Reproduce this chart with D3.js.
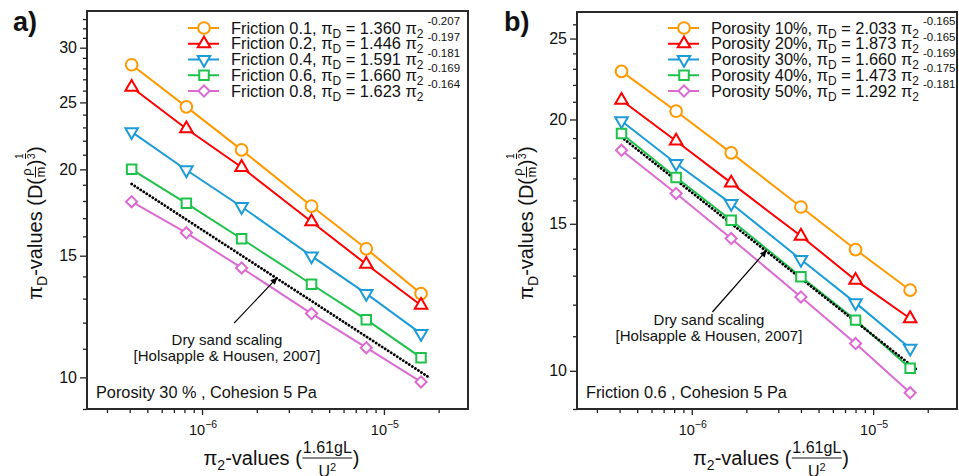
<!DOCTYPE html>
<html><head><meta charset="utf-8">
<script src="https://cdn.jsdelivr.net/npm/d3@7"></script>
<style>
body{margin:0;background:#fff;}
svg{display:block;font-family:"Liberation Sans",Arial,Helvetica,sans-serif;}
svg text{white-space:pre;}
</style></head><body>
<svg id="chart" width="959" height="476"></svg>
<script>
// ---------------- data ----------------
const xValues = [4.1e-7, 8.2e-7, 1.65e-6, 4.0e-6, 8.0e-6, 1.6e-5];

const frictionLabels = ["Friction 0.1", "Friction 0.2", "Friction 0.4", "Friction 0.6", "Friction 0.8"];
const frictionCoef = ["1.360", "1.446", "1.591", "1.660", "1.623"];
const frictionExp = ["-0.207", "-0.197", "-0.181", "-0.169", "-0.164"];
const friction01 = [28.34, 24.63, 21.34, 17.70, 15.35, 13.22];
const friction02 = [26.30, 22.90, 20.14, 16.80, 14.58, 12.72];
const friction04 = [22.66, 19.96, 17.66, 14.98, 13.22, 11.57];
const friction06 = [20.00, 17.86, 15.87, 13.64, 12.12, 10.68];
const friction08 = [17.96, 16.19, 14.40, 12.37, 11.04, 9.85];

const porosityLabels = ["Porosity 10%", "Porosity 20%", "Porosity 30%", "Porosity 40%", "Porosity 50%"];
const porosityCoef = ["2.033", "1.873", "1.660", "1.473", "1.292"];
const porosityExp = ["-0.165", "-0.165", "-0.169", "-0.175", "-0.181"];
const porosity10 = [22.84, 20.46, 18.24, 15.71, 13.97, 12.49];
const porosity20 = [21.09, 18.85, 16.79, 14.50, 12.84, 11.55];
const porosity30 = [19.92, 17.71, 15.86, 13.59, 12.06, 10.64];
const porosity40 = [19.24, 17.04, 15.15, 12.96, 11.50, 10.07];
const porosity50 = [18.37, 16.31, 14.40, 12.26, 10.78, 9.41];

const drySandX = [4.1e-7, 1.77e-5];
const drySandY = [19.05, 10.0];
const drySandText = ["Dry sand scaling", "[Holsapple & Housen, 2007]"];
const arrowHead = [2.58e-6, 13.93];
const arrowTailA = [1.5e-6, 11.98];
const arrowTailB = [1.3e-6, 11.76];

const xMajorTicks = [1e-6, 1e-5];
const xMajorExp = ["\u22126", "\u22125"];
const xMinorTicks = [3e-7, 4e-7, 5e-7, 6e-7, 7e-7, 8e-7, 9e-7, 2e-6, 3e-6, 4e-6, 5e-6, 6e-6, 7e-6, 8e-6, 9e-6, 2e-5];
const yMajorTicksA = [10, 15, 20, 25, 30];
const yMajorTicksB = [10, 15, 20, 25];
const yMinorTicksA = [9, 11, 12, 13, 14, 16, 17, 18, 19, 21, 22, 23, 24, 26, 27, 28, 29, 31, 32, 33];
const yMinorTicksB = [9, 11, 12, 13, 14, 16, 17, 18, 19, 21, 22, 23, 24, 26];

const seriesColors = ["#FF9900", "#FF0000", "#1B9CD8", "#1EC24A", "#DC6AD3"];
const seriesMarkers = ["circle", "triangle", "triangleDown", "square", "diamond"];

// ---------------- panels ----------------
const panels = [
  {
    id: "a", letter: "a)", letterX: 13, left: 87, right: 468, top: 11, bottom: 409,
    xDomain: [2.33e-7, 2.9e-5], yDomain: [9.0, 33.9],
    yMajor: yMajorTicksA, yMinor: yMinorTicksA,
    series: [friction01, friction02, friction04, friction06, friction08],
    labels: frictionLabels, coef: frictionCoef, exps: frictionExp,
    legendX: 188, legendY: 28,
    note: "Porosity 30 % , Cohesion 5 Pa",
    dryTextX: 227, dryTextY: 345, arrowTail: arrowTailA,
    yLabelX: 42
  },
  {
    id: "b", letter: "b)", letterX: 504, left: 577, right: 957, top: 12, bottom: 409,
    xDomain: [2.33e-7, 2.9e-5], yDomain: [9.0, 26.9],
    yMajor: yMajorTicksB, yMinor: yMinorTicksB,
    series: [porosity10, porosity20, porosity30, porosity40, porosity50],
    labels: porosityLabels, coef: porosityCoef, exps: porosityExp,
    legendX: 668, legendY: 28,
    note: "Friction 0.6 , Cohesion 5 Pa",
    dryTextX: 709, dryTextY: 325, arrowTail: arrowTailB,
    yLabelX: 533
  }
];

const svg = d3.select("#chart");
const defs = svg.append("defs");
defs.append("marker").attr("id", "arrow").attr("viewBox", "0 0 10 10")
  .attr("refX", 9).attr("refY", 5).attr("markerWidth", 8).attr("markerHeight", 7)
  .attr("markerUnits", "userSpaceOnUse").attr("orient", "auto")
  .append("path").attr("d", "M0,0.5 L10,5 L0,9.5 Z").attr("fill", "#000");

// rich text layout helper
function layout(g, pieces) {
  let cx = 0;
  pieces.forEach(p => {
    if (p.frac) {
      const gn = g.append("g"), gd = g.append("g");
      const wn = layout(gn, p.frac.num), wd = layout(gd, p.frac.den);
      const pad = p.pad || 1.5;
      const w = Math.max(wn, wd) + 2 * pad;
      gn.attr("transform", `translate(${cx + (w - wn) / 2},${p.numY})`);
      gd.attr("transform", `translate(${cx + (w - wd) / 2},${p.denY})`);
      g.append("line").attr("x1", cx + 0.5).attr("x2", cx + w - 0.5)
        .attr("y1", p.barY).attr("y2", p.barY).attr("stroke", "#111").attr("stroke-width", p.barW || 1);
      cx += w;
    } else {
      cx += (p.dx || 0);
      const t = g.append("text").attr("x", cx).attr("y", p.dy || 0)
        .attr("font-size", p.size).attr("fill", "#111")
        .attr("font-weight", p.weight || "normal").text(p.t);
      cx += t.node().getComputedTextLength();
    }
  });
  return cx;
}

function markerPath(type, size) {
  const map = {circle: d3.symbolCircle, triangle: d3.symbolTriangle, triangleDown: d3.symbolTriangle,
               square: d3.symbolSquare, diamond: d3.symbolSquare};
  const sizes = {circle: 108, triangle: 68, triangleDown: 68, square: 90, diamond: 62};
  return d3.symbol().type(map[type]).size(size || sizes[type])();
}
function markerRot(type) {
  return type === "triangleDown" ? " rotate(180)" : (type === "diamond" ? " rotate(45)" : "");
}

panels.forEach(P => {
  const g = svg.append("g");
  const x = d3.scaleLog().domain(P.xDomain).range([P.left, P.right]);
  const y = d3.scaleLog().domain(P.yDomain).range([P.bottom, P.top]);

  // axes ticks
  const axisStyle = sel => {
    sel.select(".domain").remove();
    sel.selectAll(".tick line").attr("stroke", "#222").attr("stroke-width", 1.3);
  };
  g.append("g").attr("transform", `translate(0,${P.bottom})`)
    .call(d3.axisBottom(x).tickValues(xMinorTicks).tickSize(4).tickFormat(""))
    .call(axisStyle);
  g.append("g").attr("transform", `translate(0,${P.bottom})`)
    .call(d3.axisBottom(x).tickValues(xMajorTicks).tickSize(6).tickFormat(""))
    .call(axisStyle);
  xMajorTicks.forEach((v, i) => {
    const lg = g.append("g");
    const w = layout(lg, [{t: "10", size: 14.5}, {t: xMajorExp[i], size: 10.5, dy: -7}]);
    lg.attr("transform", `translate(${x(v) - w / 2 + 1},435)`);
  });
  g.append("g").attr("transform", `translate(${P.left},0)`)
    .call(d3.axisLeft(y).tickValues(P.yMinor).tickSize(4).tickFormat(""))
    .call(axisStyle);
  const ya = g.append("g").attr("transform", `translate(${P.left},0)`)
    .call(d3.axisLeft(y).tickValues(P.yMajor).tickSize(7).tickPadding(3).tickFormat(d3.format("d")))
    .call(axisStyle);
  ya.selectAll(".tick text").attr("font-size", 16).attr("fill", "#111")
    .attr("font-family", '"Liberation Sans",Arial,sans-serif');

  // frame
  g.append("rect").attr("x", P.left).attr("y", P.top)
    .attr("width", P.right - P.left).attr("height", P.bottom - P.top)
    .attr("fill", "none").attr("stroke", "#2a2a2a").attr("stroke-width", 2);

  // series lines
  const line = d3.line().x((d, i) => x(xValues[i])).y(d => y(d));
  P.series.forEach((s, k) => {
    g.append("path").datum(s).attr("d", line).attr("fill", "none")
      .attr("stroke", seriesColors[k]).attr("stroke-width", 2);
  });
  // dry sand dotted line
  g.append("path").datum(drySandX.map((v, i) => [v, drySandY[i]]))
    .attr("d", d3.line().x(d => x(d[0])).y(d => y(d[1])))
    .attr("fill", "none").attr("stroke", "#000").attr("stroke-width", 2.8)
    .attr("stroke-linecap", "round").attr("stroke-dasharray", "0.1 3.5");
  // markers
  P.series.forEach((s, k) => {
    const type = seriesMarkers[k];
    g.selectAll(null).data(s).enter().append("path")
      .attr("d", markerPath(type))
      .attr("transform", (d, i) => `translate(${x(xValues[i])},${y(d)})` + markerRot(type))
      .attr("fill", "#fff").attr("stroke", seriesColors[k]).attr("stroke-width", 2);
  });

  // arrow
  g.append("line")
    .attr("x1", x(P.arrowTail[0])).attr("y1", y(P.arrowTail[1]))
    .attr("x2", x(arrowHead[0])).attr("y2", y(arrowHead[1]))
    .attr("stroke", "#000").attr("stroke-width", 1.2).attr("marker-end", "url(#arrow)");
  drySandText.forEach((t, i) => {
    g.append("text").attr("x", P.dryTextX).attr("y", P.dryTextY + i * 15.5)
      .attr("text-anchor", "middle").attr("font-size", 15).attr("fill", "#111").text(t);
  });

  // bottom note
  g.append("text").attr("x", P.left + 9).attr("y", 398).attr("font-size", 16.3).attr("fill", "#111").text(P.note);

  // legend
  P.labels.forEach((lab, k) => {
    const ry = P.legendY + k * 15.75;
    g.append("line").attr("x1", P.legendX).attr("x2", P.legendX + 31).attr("y1", ry).attr("y2", ry)
      .attr("stroke", seriesColors[k]).attr("stroke-width", 2);
    const type = seriesMarkers[k];
    g.append("path").attr("d", markerPath(type))
      .attr("transform", `translate(${P.legendX + 16},${ry})` + markerRot(type))
      .attr("fill", "#fff").attr("stroke", seriesColors[k]).attr("stroke-width", 2);
    const lg = g.append("g").attr("transform", `translate(${P.legendX + 43},${ry + 5.5})`);
    layout(lg, [
      {t: lab + ", \u03c0", size: 16.4},
      {t: "D", size: 12, dy: 4},
      {t: " = " + P.coef[k] + " \u03c0", size: 16.4},
      {t: "2", size: 12, dy: 4},
      {t: P.exps[k], size: 11.5, dy: -8.5, dx: 4}
    ]);
  });

  // panel letter
  g.append("text").attr("x", P.letterX).attr("y", 31).attr("font-size", 27)
    .attr("font-weight", "bold").attr("fill", "#111").text(P.letter);

  // x label
  const xl = g.append("g");
  const wx = layout(xl, [
    {t: "\u03c0", size: 20}, {t: "2", size: 14, dy: 5}, {t: "-values (", size: 20},
    {frac: {num: [{t: "1.61gL", size: 16}], den: [{t: "U", size: 16}, {t: "2", size: 11, dy: -6}]},
     numY: -12, denY: 12, barY: -7, pad: 1},
    {t: ")", size: 20}
  ]);
  const xc = (P.left + P.right) / 2 + 4;
  xl.attr("transform", `translate(${xc - wx / 2},465)`);

  // y label (rotated)
  const yl = g.append("g");
  const wy = layout(yl, [
    {t: "\u03c0", size: 20}, {t: "D", size: 14, dy: 5}, {t: "-values (D(", size: 20},
    {frac: {num: [{t: "\u03c1", size: 13}], den: [{t: "m", size: 13}]}, numY: -11, denY: 3, barY: -6.5, pad: 0.5},
    {t: ")", size: 20},
    {frac: {num: [{t: "1", size: 10}], den: [{t: "3", size: 10}]}, numY: -19, denY: -7, barY: -16.5, pad: 0.5},
    {t: ")", size: 20}
  ]);
  yl.attr("transform", `translate(${P.yLabelX},223) rotate(-90) translate(${-wy / 2},0)`);
});
</script>
</body></html>
